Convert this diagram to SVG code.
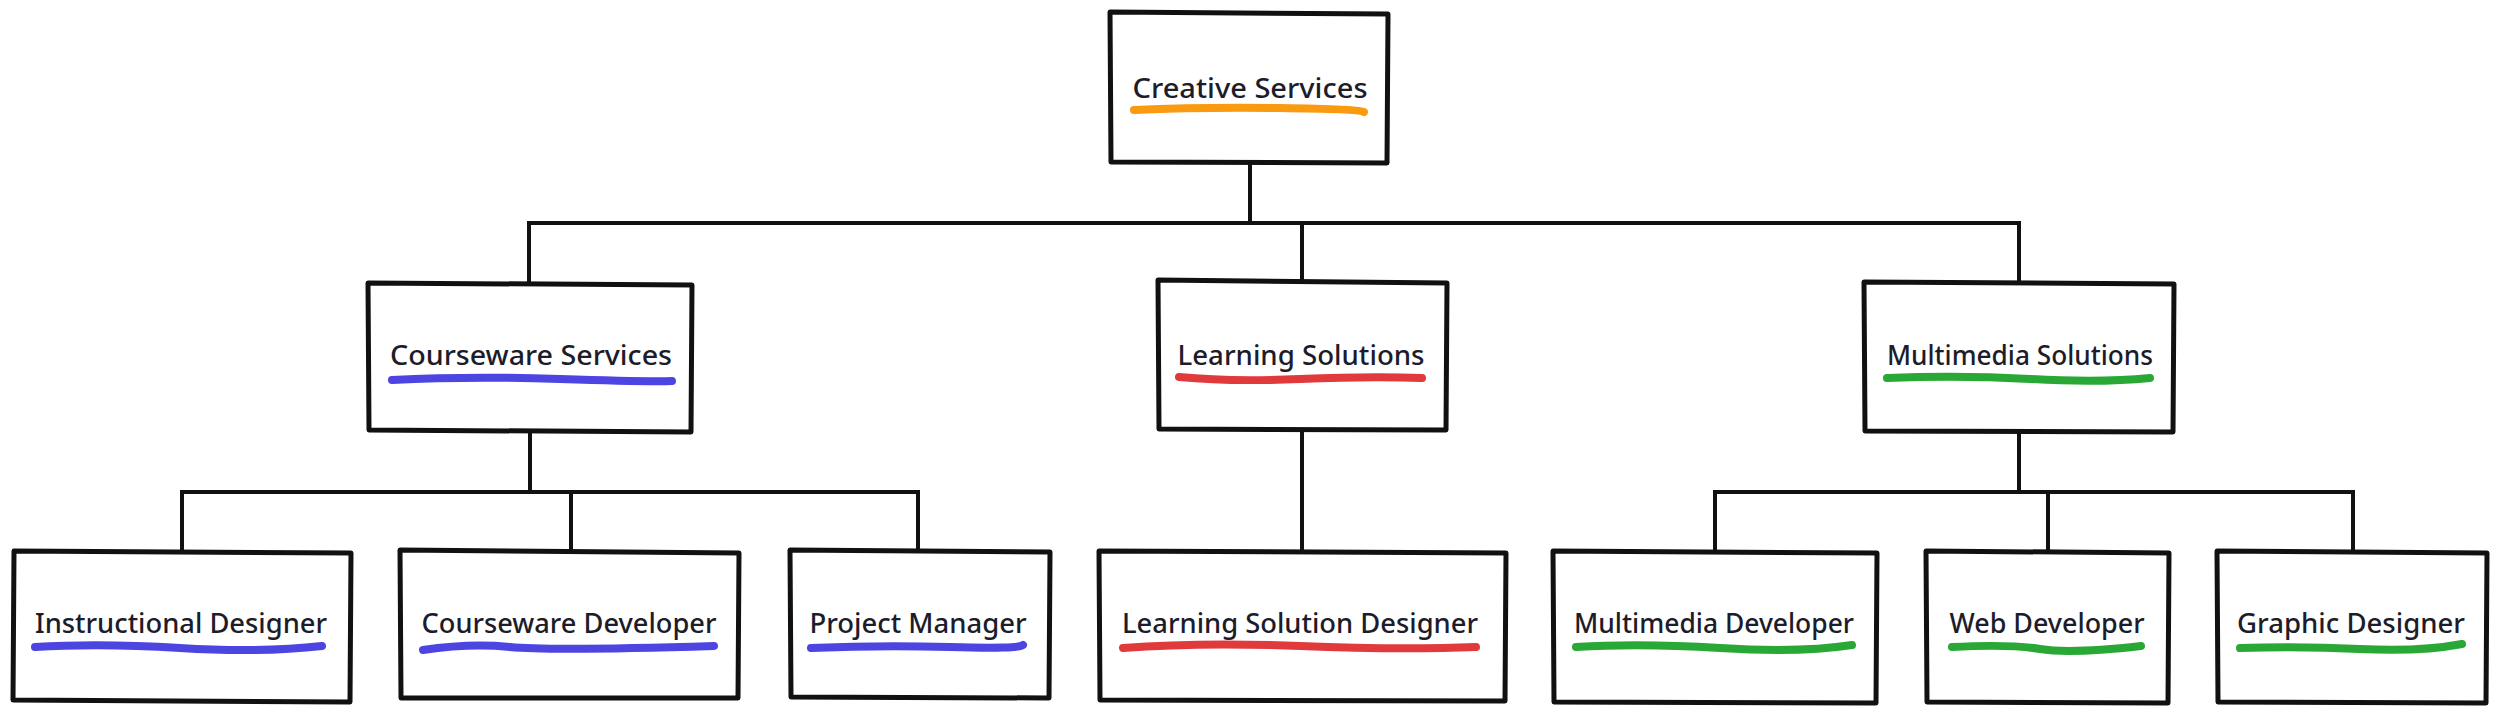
<svg xmlns="http://www.w3.org/2000/svg" width="2505" height="720" viewBox="0 0 2505 720">
<style>
.box{fill:#fff;stroke:#111;stroke-width:5;stroke-linejoin:round}
.lbl{font-family:"Noto Sans","Liberation Sans",sans-serif;font-size:27px;font-weight:500;fill:#1c1c2a;text-anchor:middle}
.ul{fill:none;stroke-width:8;stroke-linecap:round;stroke-linejoin:round}
.o{stroke:#f99a10}.b{stroke:#4d44e2}.r{stroke:#e03a3c}.g{stroke:#2aa836}
.con{fill:none;stroke:#111;stroke-width:4;stroke-linecap:square}
</style>
<rect width="2505" height="720" fill="#fff"/>
<g id="connectors">
<path class="con" d="M1250 163V223M529 223H2019M529 223V283M1302 223V280M2019 223V282"/>
<path class="con" d="M530 432V492M182 492H918M182 492V551M571 492V550M918 492V550"/>
<path class="con" d="M1302 430V551"/>
<path class="con" d="M2019 432V492M1715 492H2353M1715 492V551M2048 492V551M2353 492V551"/>
</g>
<g id="creative-services">
<path class="box" d="M1110 12L1388 14L1387 163L1111 162Z"/>
<text class="lbl" x="1250" y="98" textLength="235" lengthAdjust="spacingAndGlyphs">Creative Services</text>
<path class="ul o" d="M1134 110Q1200 107 1280 108T1364 112"/>
</g>
<g id="courseware-services">
<path class="box" d="M368 283L692 285L691 432L369 430Z"/>
<text class="lbl" x="531" y="365" textLength="282" lengthAdjust="spacingAndGlyphs">Courseware Services</text>
<path class="ul b" d="M392 380Q470 376 560 379T672 381"/>
</g>
<g id="learning-solutions">
<path class="box" d="M1158 280L1447 283L1446 430L1159 429Z"/>
<text class="lbl" x="1301" y="365" textLength="247" lengthAdjust="spacingAndGlyphs">Learning Solutions</text>
<path class="ul r" d="M1179 377Q1230 382 1300 379T1422 378"/>
</g>
<g id="multimedia-solutions">
<path class="box" d="M1864 282L2174 284L2173 432L1865 431Z"/>
<text class="lbl" x="2020" y="365" textLength="266" lengthAdjust="spacingAndGlyphs">Multimedia Solutions</text>
<path class="ul g" d="M1887 378Q1960 375 2030 379T2150 378"/>
</g>
<g id="instructional-designer">
<path class="box" d="M14 551L351 553L350 702L13 700Z"/>
<text class="lbl" x="181" y="633" textLength="292" lengthAdjust="spacingAndGlyphs">Instructional Designer</text>
<path class="ul b" d="M35 647Q100 643 180 648T322 646"/>
</g>
<g id="courseware-developer">
<path class="box" d="M400 550L739 553L738 698L401 698Z"/>
<text class="lbl" x="569" y="633" textLength="295" lengthAdjust="spacingAndGlyphs">Courseware Developer</text>
<path class="ul b" d="M423 650Q470 643 510 647T714 646"/>
</g>
<g id="project-manager">
<path class="box" d="M790 550L1050 552L1049 698L791 697Z"/>
<text class="lbl" x="918" y="633" textLength="217" lengthAdjust="spacingAndGlyphs">Project Manager</text>
<path class="ul b" d="M811 648Q880 645 950 647T1023 645"/>
</g>
<g id="learning-solution-designer">
<path class="box" d="M1099 551L1506 553L1505 701L1100 700Z"/>
<text class="lbl" x="1300" y="633" textLength="356" lengthAdjust="spacingAndGlyphs">Learning Solution Designer</text>
<path class="ul r" d="M1123 648Q1200 642 1300 646T1476 647"/>
</g>
<g id="multimedia-developer">
<path class="box" d="M1553 551L1877 553L1876 703L1554 702Z"/>
<text class="lbl" x="1714" y="633" textLength="280" lengthAdjust="spacingAndGlyphs">Multimedia Developer</text>
<path class="ul g" d="M1576 647Q1640 643 1720 648T1852 645"/>
</g>
<g id="web-developer">
<path class="box" d="M1926 551L2169 553L2168 703L1927 702Z"/>
<text class="lbl" x="2047" y="633" textLength="195" lengthAdjust="spacingAndGlyphs">Web Developer</text>
<path class="ul g" d="M1952 647Q2010 644 2040 649T2141 646"/>
</g>
<g id="graphic-designer">
<path class="box" d="M2217 551L2487 553L2486 703L2218 702Z"/>
<text class="lbl" x="2351" y="633" textLength="228" lengthAdjust="spacingAndGlyphs">Graphic Designer</text>
<path class="ul g" d="M2240 648Q2300 646 2360 649T2462 644"/>
</g>
</svg>
